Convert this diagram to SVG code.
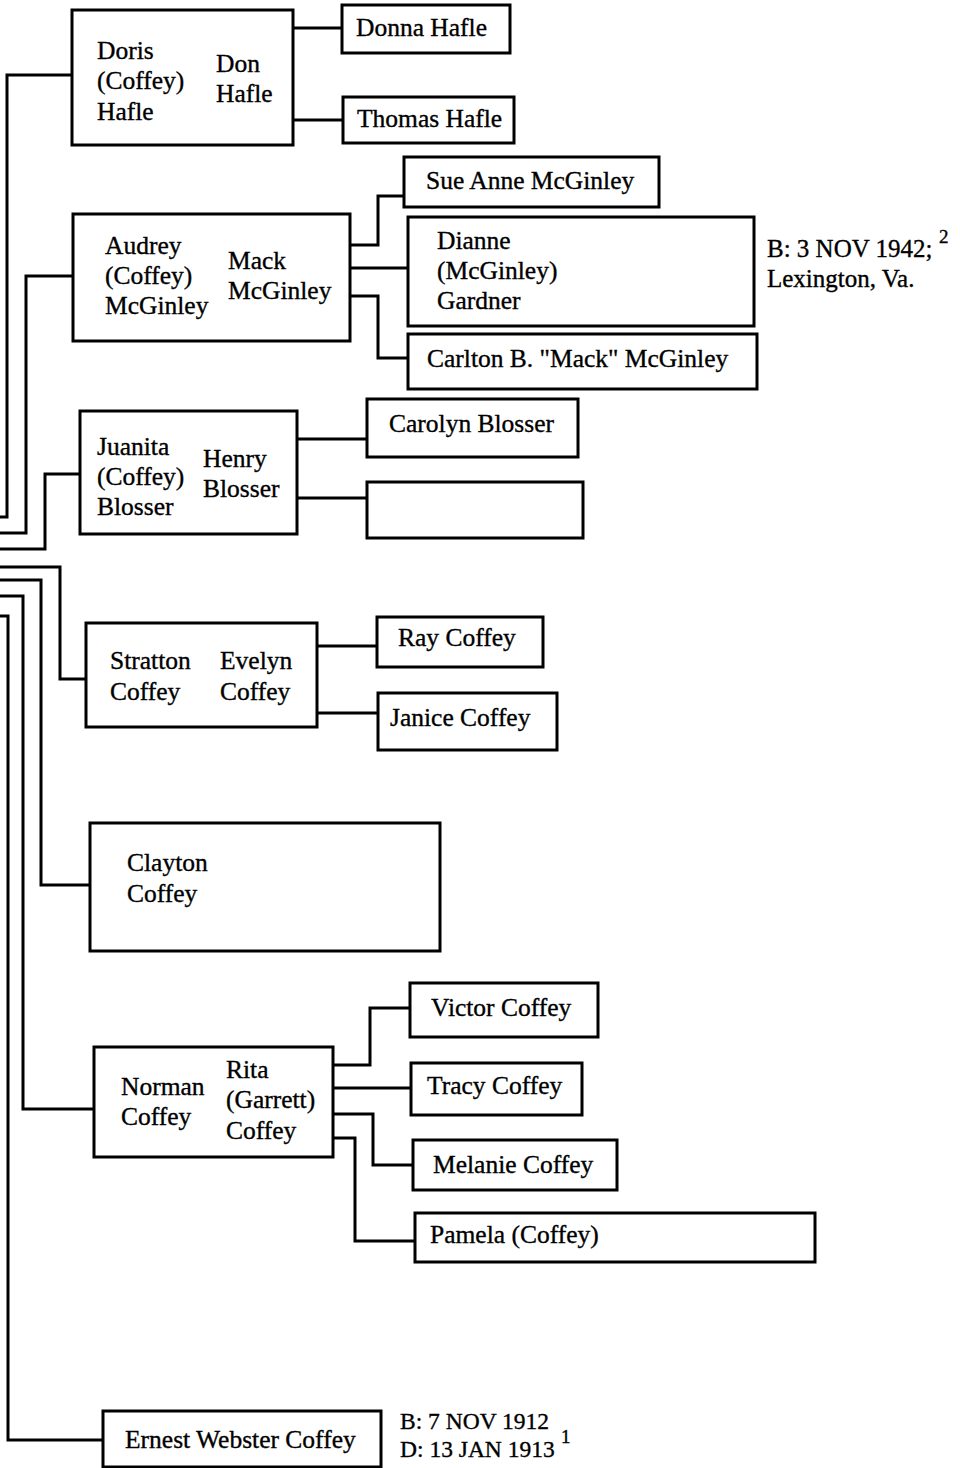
<svg xmlns="http://www.w3.org/2000/svg" width="960" height="1468" viewBox="0 0 960 1468">
<style>
.box{fill:#fff;stroke:#000;stroke-width:3}
.ln{fill:none;stroke:#000;stroke-width:3;stroke-linejoin:miter;stroke-linecap:square}
text{font-family:"Liberation Serif","Times New Roman",serif;font-size:25.5px;fill:#000;stroke:#000;stroke-width:0.35}
.note{font-size:25px}
.note2{font-size:23.5px}
.sup{font-size:19px}
</style>
<rect width="960" height="1468" fill="#fff"/>
<g id="connectors">
<path class="ln" d="M72,75 H7 V517 H-4"/>
<path class="ln" d="M73,276 H26 V533 H-4"/>
<path class="ln" d="M80,474 H45 V549 H-4"/>
<path class="ln" d="M-4,567 H60 V679 H86"/>
<path class="ln" d="M-4,580 H41 V885 H90"/>
<path class="ln" d="M-4,596 H23 V1109 H94"/>
<path class="ln" d="M-4,616 H8 V1440 H103"/>
<path class="ln" d="M293,28 H342"/>
<path class="ln" d="M293,120 H343"/>
<path class="ln" d="M350,245 H378 V196 H404"/>
<path class="ln" d="M350,268 H408"/>
<path class="ln" d="M350,296 H378 V358 H408"/>
<path class="ln" d="M297,439 H367"/>
<path class="ln" d="M297,498 H367"/>
<path class="ln" d="M317,646 H377"/>
<path class="ln" d="M317,713 H378"/>
<path class="ln" d="M333,1065 H370 V1008 H410"/>
<path class="ln" d="M333,1088 H411"/>
<path class="ln" d="M333,1114 H373 V1165 H413"/>
<path class="ln" d="M333,1138 H355 V1241 H415"/>
</g>
<g id="doris">
<rect class="box" x="72" y="10" width="221" height="135"/>
<text x="97" y="59">Doris</text>
<text x="97" y="89">(Coffey)</text>
<text x="97" y="120">Hafle</text>
<text x="216" y="72">Don</text>
<text x="216" y="102">Hafle</text>
</g>
<g id="donna">
<rect class="box" x="342" y="5" width="168" height="48"/>
<text x="356" y="36">Donna Hafle</text>
</g>
<g id="thomas">
<rect class="box" x="343" y="97" width="171" height="46"/>
<text x="357" y="127">Thomas Hafle</text>
</g>
<g id="audrey">
<rect class="box" x="73" y="214" width="277" height="127"/>
<text x="105" y="254">Audrey</text>
<text x="105" y="284">(Coffey)</text>
<text x="105" y="314">McGinley</text>
<text x="228" y="269">Mack</text>
<text x="228" y="299">McGinley</text>
</g>
<g id="sueanne">
<rect class="box" x="404" y="157" width="255" height="50"/>
<text x="426" y="189">Sue Anne McGinley</text>
</g>
<g id="dianne">
<rect class="box" x="408" y="217" width="346" height="109"/>
<text x="437" y="249">Dianne</text>
<text x="437" y="279">(McGinley)</text>
<text x="437" y="309">Gardner</text>
</g>
<g id="dianne-note">
<text class="note" x="767" y="257">B: 3 NOV 1942;</text>
<text class="sup" x="939" y="243">2</text>
<text class="note" x="767" y="287">Lexington, Va.</text>
</g>
<g id="carlton">
<rect class="box" x="408" y="334" width="349" height="55"/>
<text x="427" y="367">Carlton B. "Mack" McGinley</text>
</g>
<g id="juanita">
<rect class="box" x="80" y="411" width="217" height="123"/>
<text x="97" y="455">Juanita</text>
<text x="97" y="485">(Coffey)</text>
<text x="97" y="515">Blosser</text>
<text x="203" y="467">Henry</text>
<text x="203" y="497">Blosser</text>
</g>
<g id="carolyn">
<rect class="box" x="367" y="399" width="211" height="58"/>
<text x="389" y="432">Carolyn Blosser</text>
</g>
<g id="empty">
<rect class="box" x="367" y="482" width="216" height="56"/>
</g>
<g id="stratton">
<rect class="box" x="86" y="623" width="231" height="104"/>
<text x="110" y="669">Stratton</text>
<text x="110" y="700">Coffey</text>
<text x="220" y="669">Evelyn</text>
<text x="220" y="700">Coffey</text>
</g>
<g id="ray">
<rect class="box" x="377" y="617" width="166" height="50"/>
<text x="398" y="646">Ray Coffey</text>
</g>
<g id="janice">
<rect class="box" x="378" y="693" width="179" height="57"/>
<text x="390" y="726">Janice Coffey</text>
</g>
<g id="clayton">
<rect class="box" x="90" y="823" width="350" height="128"/>
<text x="127" y="871">Clayton</text>
<text x="127" y="902">Coffey</text>
</g>
<g id="norman">
<rect class="box" x="94" y="1047" width="239" height="110"/>
<text x="121" y="1095">Norman</text>
<text x="121" y="1125">Coffey</text>
<text x="226" y="1078">Rita</text>
<text x="226" y="1108">(Garrett)</text>
<text x="226" y="1139">Coffey</text>
</g>
<g id="victor">
<rect class="box" x="410" y="983" width="188" height="54"/>
<text x="431" y="1016">Victor Coffey</text>
</g>
<g id="tracy">
<rect class="box" x="411" y="1063" width="171" height="52"/>
<text x="427" y="1094">Tracy Coffey</text>
</g>
<g id="melanie">
<rect class="box" x="413" y="1140" width="204" height="50"/>
<text x="433" y="1173">Melanie Coffey</text>
</g>
<g id="pamela">
<rect class="box" x="415" y="1213" width="400" height="49"/>
<text x="430" y="1243">Pamela (Coffey)</text>
</g>
<g id="ernest">
<rect class="box" x="103" y="1411" width="278" height="56"/>
<text x="125" y="1448">Ernest Webster Coffey</text>
</g>
<g id="ernest-note">
<text class="note2" x="400" y="1429">B: 7 NOV 1912</text>
<text class="note2" x="400" y="1457">D: 13 JAN 1913</text>
<text class="sup" x="561" y="1443">1</text>
</g>
</svg>
